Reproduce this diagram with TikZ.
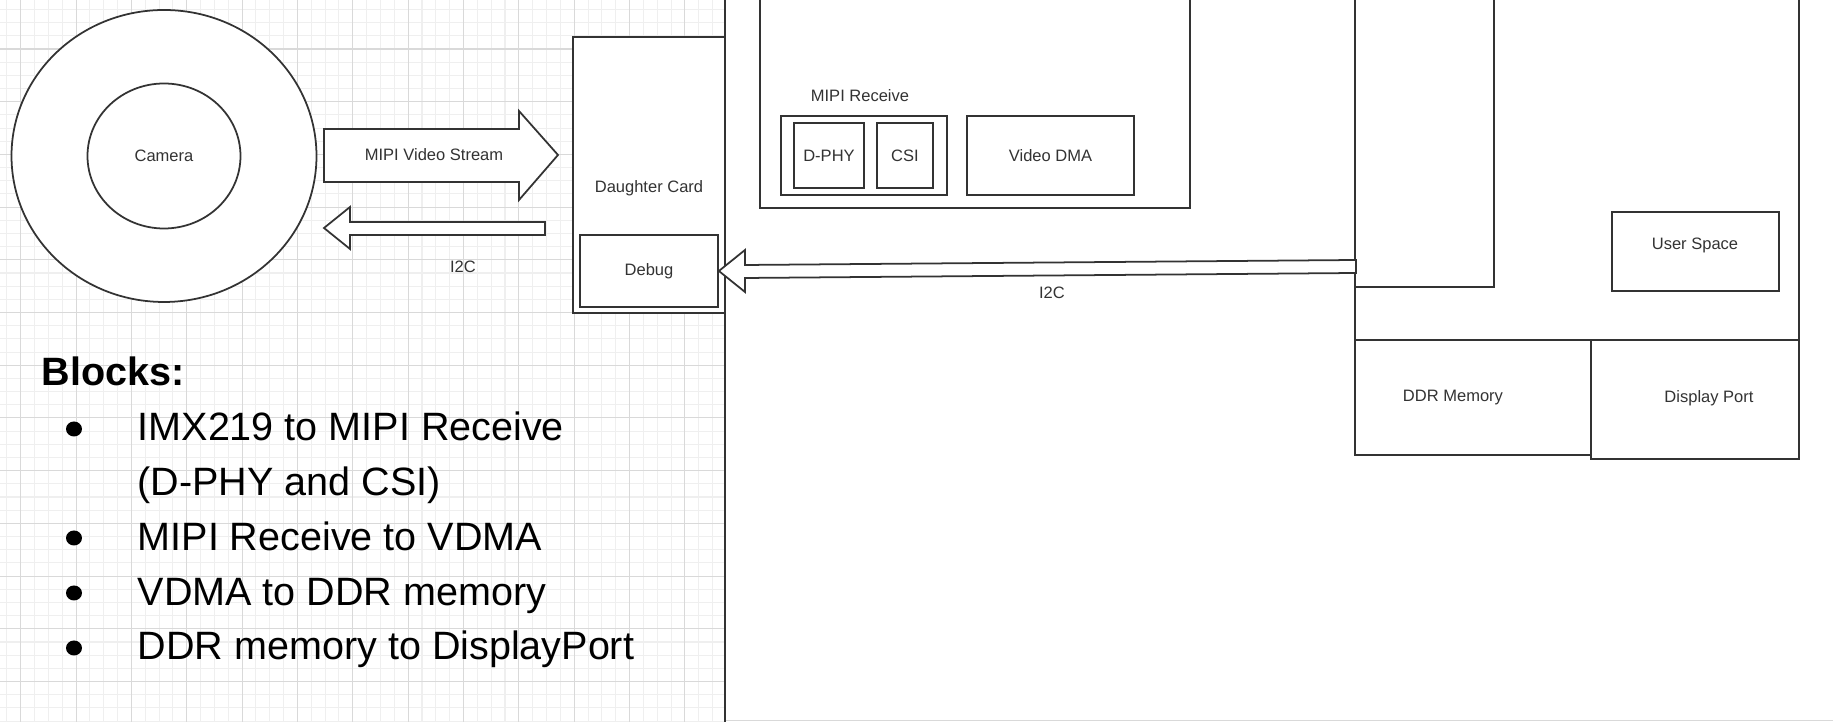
\documentclass[tikz,border=0pt]{standalone}
\usepackage{fontspec}
\setmainfont{Liberation Sans}
\usetikzlibrary{shapes.geometric,positioning}
\definecolor{ink}{HTML}{333333}
\definecolor{gridmajor}{HTML}{D9D9D9}
\definecolor{gridminor}{HTML}{EFEFEF}
\begin{document}
\begin{tikzpicture}[x=0.1mm,y=-0.1mm,line join=miter,font=\fontsize{4.7}{5.6}\selectfont]
	\tikzset{box/.style={draw=ink,line width=0.5pt,fill=white,inner sep=0pt,text=ink},
		blk/.style={draw=ink,line width=0.5pt,fill=white},
		lbl/.style={inner sep=0pt,text=ink},
		item/.style={anchor=base west,inner sep=0pt,font=\fontsize{11.25}{13}\selectfont}}
	\useasboundingbox (0,0) rectangle (1833,722);
	% squared paper
	\begin{scope}
		\clip (0,0) rectangle (725,722);
		\foreach \k in {-2,...,54}
		\draw[gridminor,line width=0.3pt] ({20.7+13.8375*\k},0)--({20.7+13.8375*\k},722);
		\foreach \k in {-4,...,56}
		\draw[gridminor,line width=0.3pt] (0,{49+13.1775*\k})--(725,{49+13.1775*\k});
		\foreach \k in {0,...,13}
		\draw[gridmajor,line width=0.3pt] ({20.7+55.35*\k},0)--({20.7+55.35*\k},722);
		\foreach \k in {-1,...,13}
		\draw[gridmajor,line width=0.3pt] (0,{49+52.71*\k})--(725,{49+52.71*\k});
	\end{scope}
	\fill[white] (725,-5) rectangle (1840,720);
	\draw[gridmajor,line width=0.4pt] (725,720.5)--(1833,720.5);
	\draw[ink,line width=0.5pt] (725,-5)--(725,727);
	% camera
	\node[ellipse,box,minimum width=30.5mm,minimum height=29.2mm] (lens) at (164,156) {};
	\node[ellipse,box,minimum width=15.3mm,minimum height=14.5mm] (camera) at (164,156) {Camera};
	\draw[blk] (324,129)--(519,129)--(519,111)--(558,155)--(519,200)--(519,182)--(324,182)--cycle;
	\node[lbl] (stream) at (434,155) {MIPI Video Stream};
	\draw[blk] (545,222)--(350,222)--(350,207)--(324,228)--(350,249)--(350,235)--(545,235)--cycle;
	\node[lbl] (i2cleft) at (463,267) {I2C};
	% daughter card
	\node[box,minimum width=15.2mm,minimum height=27.6mm] (dcard) at (649,175) {};
	\node[lbl] (dcardtext) at (649,188) {Daughter Card};
	\node[box,minimum width=13.8mm,minimum height=7.2mm] (debug) at (649,271) {Debug};
	% programmable logic
	\node[box,minimum width=43mm,minimum height=21.8mm] (fabric) at (975,99) {};
	\node[lbl] (mipitext) at (860,96) {MIPI Receive};
	\node[box,minimum width=16.6mm,minimum height=7.9mm] (mipirx) at (864,155.5) {};
	\node[box,minimum width=7mm,minimum height=6.5mm] (dphy) at (829,155.5) {D-PHY};
	\node[box,minimum width=5.6mm,minimum height=6.5mm] (csi) at (905,155.5) {CSI};
	\node[box,minimum width=16.7mm,minimum height=7.9mm] (vdma) at (1050.5,155.5) {Video DMA};
	% processing system
	\node[box,minimum width=44.4mm,minimum height=35mm] (ps) at (1577,165) {};
	\node[box,minimum width=13.9mm,minimum height=29.7mm] (cpu) at (1424.5,138.5) {};
	\node[box,minimum width=16.7mm,minimum height=7.9mm] (user) at (1695.5,251.5) {};
	\node[lbl] (usertext) at (1695,245) {User Space};
	\node[box,minimum width=23.6mm,minimum height=11.5mm] (ddr) at (1473,397.5) {};
	\node[lbl] (ddrtext) at (1453,398) {DDR Memory};
	\node[box,minimum width=20.8mm,minimum height=11.9mm] (dp) at (1695,399.5) {};
	\node[lbl] (dptext) at (1709,398) {Display Port};
	\draw[blk] (1356,260)--(745,265)--(745,250)--(debug.east)--(745,292)--(745,278)--(1356,273)--cycle;
	\node[lbl] (i2cright) at (1052,293) {I2C};
	% notes
	\node[item,font=\fontsize{11.25}{13}\selectfont\bfseries] (blocks) at (41,386) {Blocks:};
	\node[item] (line1) at (137,441) {IMX219 to MIPI Receive};
	\node[item] (line2) at (137,496) {(D-PHY and CSI)};
	\node[item] (line3) at (137,551) {MIPI Receive to VDMA};
	\node[item] (line4) at (137,606) {VDMA to DDR memory};
	\node[item] (line5) at (137,660) {DDR memory to DisplayPort};
	\foreach \y in {429,538,593,648}
	\fill (74,\y) ellipse [x radius=0.8mm,y radius=0.75mm];
\end{tikzpicture}
\end{document}
